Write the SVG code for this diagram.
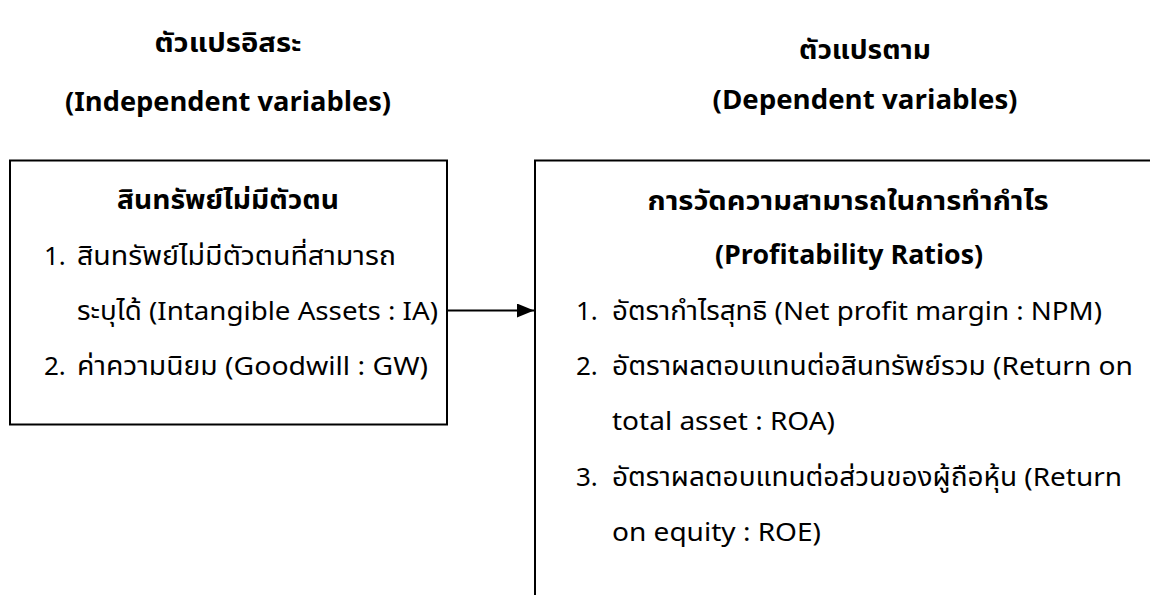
<svg xmlns="http://www.w3.org/2000/svg" width="1150" height="595" viewBox="0 0 1150 595">
  <style>
    text { font-family: "Noto Sans Thai", "Noto Sans", "Liberation Sans", sans-serif; fill: #000; font-size: 26px; }
    .h { font-weight: bold; text-anchor: middle; }
    .box { fill: #fff; stroke: #000; stroke-width: 2; }
    .edge { fill: none; stroke: #000; stroke-width: 2; }
  </style>
  <defs>
    <marker id="arrow" markerWidth="17" markerHeight="14" refX="17" refY="7" orient="auto" markerUnits="userSpaceOnUse">
      <path d="M0,0 L17,7 L0,14 Z" fill="#000"/>
    </marker>
  </defs>
  <rect width="1150" height="595" fill="#fff"/>

  <g id="title-independent">
    <text class="h" x="228" y="52" textLength="147" lengthAdjust="spacingAndGlyphs">ตัวแปรอิสระ</text>
    <text class="h" x="228" y="111" textLength="326" lengthAdjust="spacingAndGlyphs">(Independent variables)</text>
  </g>
  <g id="title-dependent">
    <text class="h" x="865" y="59" textLength="132" lengthAdjust="spacingAndGlyphs">ตัวแปรตาม</text>
    <text class="h" x="865" y="109" textLength="305" lengthAdjust="spacingAndGlyphs">(Dependent variables)</text>
  </g>

  <g id="node-intangible">
    <rect class="box" x="10" y="160.5" width="437" height="264"/>
    <text class="h" x="228" y="209" textLength="222" lengthAdjust="spacingAndGlyphs">สินทรัพย์ไม่มีตัวตน</text>
    <text x="44" y="265">1.</text>
    <text x="77" y="265" textLength="319" lengthAdjust="spacingAndGlyphs">สินทรัพย์ไม่มีตัวตนที่สามารถ</text>
    <text x="77" y="320" textLength="361" lengthAdjust="spacingAndGlyphs">ระบุได้ (Intangible Assets : IA)</text>
    <text x="44" y="375">2.</text>
    <text x="77" y="375" textLength="351" lengthAdjust="spacingAndGlyphs">ค่าความนิยม (Goodwill : GW)</text>
  </g>

  <g id="node-profitability">
    <path class="edge" d="M535,600 L535,160.5 L1152,160.5"/>
    <text class="h" x="848" y="210" textLength="401" lengthAdjust="spacingAndGlyphs">การวัดความสามารถในการทำกำไร</text>
    <text class="h" x="849" y="264" textLength="268" lengthAdjust="spacingAndGlyphs">(Profitability Ratios)</text>
    <text x="576" y="320">1.</text>
    <text x="612" y="320" textLength="490" lengthAdjust="spacingAndGlyphs">อัตรากำไรสุทธิ (Net profit margin : NPM)</text>
    <text x="576" y="375">2.</text>
    <text x="612" y="375" textLength="521" lengthAdjust="spacingAndGlyphs">อัตราผลตอบแทนต่อสินทรัพย์รวม (Return on</text>
    <text x="612" y="430" textLength="223" lengthAdjust="spacingAndGlyphs">total asset : ROA)</text>
    <text x="576" y="486">3.</text>
    <text x="612" y="486" textLength="510" lengthAdjust="spacingAndGlyphs">อัตราผลตอบแทนต่อส่วนของผู้ถือหุ้น (Return</text>
    <text x="612" y="541" textLength="209" lengthAdjust="spacingAndGlyphs">on equity : ROE)</text>
  </g>

  <g id="connectors">
    <line class="edge" x1="447" y1="310.5" x2="534" y2="310.5" marker-end="url(#arrow)"/>
  </g>
</svg>
